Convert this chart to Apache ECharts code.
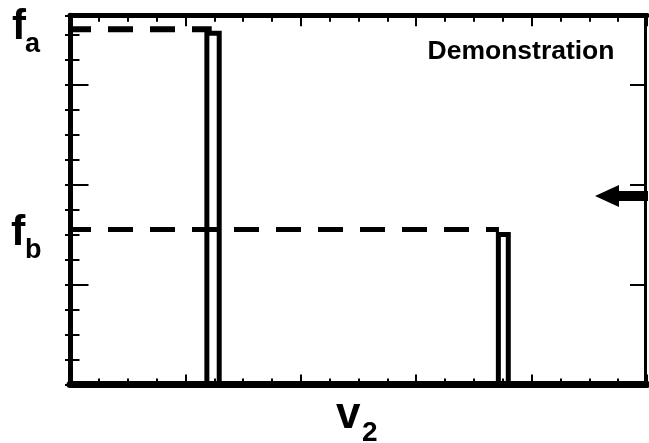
<!DOCTYPE html>
<html>
<head>
<meta charset="utf-8">
<script src="https://cdn.jsdelivr.net/npm/echarts@6/dist/echarts.min.js"></script>
<style>
  html, body { margin: 0; padding: 0; background: #fff; }
  #chart { width: 649px; height: 443px; }
</style>
</head>
<body>
<div id="chart"></div>
<script>
// Two narrow peaks on the v2 axis (outlined, unfilled)
const peakLeft   = [1.186, 3.712];
const peakRight  = [1.293, 3.798];
const peakHeight = [3.51, 1.50];

// Reference levels f_a and f_b, dashed from the left axis to their peak
const levelNames = ['a', 'b'];
const levelValue = [3.55, 1.55];
const levelEnd   = [1.228, 3.717];

// Axis extents
const xMin = 0, xMax = 5;
const yMin = 0, yMax = 3.69;

const FONT = '"Liberation Sans", Arial, Helvetica, sans-serif';
const BLACK = '#000';

const chart = echarts.init(document.getElementById('chart'), null, { renderer: 'canvas' });

function frameAxis(extra) {
  return Object.assign({
    type: 'value',
    axisLabel: { show: false },
    splitLine: { show: false },
    minorSplitLine: { show: false },
    axisPointer: { show: false }
  }, extra);
}

const xAxes = [
  frameAxis({
    position: 'bottom', min: xMin, max: xMax, interval: 1,
    axisLine: { show: true, onZero: false, lineStyle: { color: BLACK, width: 7 } },
    axisTick: { show: true, inside: true, length: 10, lineStyle: { color: BLACK, width: 2 } },
    minorTick: { show: true, splitNumber: 4, length: 6, lineStyle: { color: BLACK, width: 2 } }
  }),
  frameAxis({
    position: 'top', min: xMin, max: xMax, interval: 1,
    axisLine: { show: true, onZero: false, lineStyle: { color: BLACK, width: 5 } },
    axisTick: { show: true, inside: true, length: 11, lineStyle: { color: BLACK, width: 2 } },
    minorTick: { show: true, splitNumber: 4, length: 6.5, lineStyle: { color: BLACK, width: 2 } }
  })
];

// Left and right frames each get a major-tick axis and a fine-tick axis
const yAxes = [
  frameAxis({
    position: 'left', min: yMin, max: yMax, interval: 1,
    axisLine: { show: true, onZero: false, lineStyle: { color: BLACK, width: 5 } },
    axisTick: { show: true, inside: true, length: 18.5, lineStyle: { color: BLACK, width: 2 } }
  }),
  frameAxis({
    position: 'left', min: yMin, max: yMax, interval: 0.25,
    axisLine: { show: false },
    axisTick: { show: true, inside: true, length: 9.5, lineStyle: { color: BLACK, width: 2 } }
  }),
  frameAxis({
    position: 'right', offset: -1.5, min: yMin, max: yMax, interval: 1,
    axisLine: { show: true, onZero: false, lineStyle: { color: BLACK, width: 3 } },
    axisTick: { show: true, inside: true, length: 15.5, lineStyle: { color: BLACK, width: 2 } }
  }),
  frameAxis({
    position: 'right', offset: -1.5, min: yMin, max: yMax, interval: 0.25,
    axisLine: { show: false },
    axisTick: { show: true, inside: true, length: 6.5, lineStyle: { color: BLACK, width: 2 } }
  })
];

const series = [];

// Peak outlines: up the left edge, across the top, down the right edge
peakLeft.forEach((l, i) => {
  const r = peakRight[i], h = peakHeight[i];
  series.push({
    type: 'line',
    name: 'peak' + (i + 1),
    xAxisIndex: 0, yAxisIndex: 0,
    data: [[l, 0], [l, h], [r, h], [r, 0]],
    symbol: 'none',
    silent: true,
    z: 3,
    lineStyle: { color: BLACK, width: 5, join: 'miter', cap: 'butt' }
  });
});

// Dashed reference levels
levelValue.forEach((v, i) => {
  series.push({
    type: 'line',
    name: 'f_' + levelNames[i],
    xAxisIndex: 0, yAxisIndex: 0,
    data: [[xMin, v], [levelEnd[i], v]],
    symbol: 'none',
    silent: true,
    z: 4,
    lineStyle: { color: BLACK, width: i === 0 ? 6 : 5, type: [25, 17], dashOffset: 4, cap: 'butt' }
  });
});

function txt(text, x, y, size) {
  return {
    type: 'text', x: x, y: y, z: 100, silent: true,
    style: {
      text: text, fill: BLACK,
      font: 'bold ' + size + 'px ' + FONT,
      align: 'left', verticalAlign: 'middle'
    }
  };
}

const graphics = [
  txt('Demonstration', 427.5, 51.5, 26.5),
  txt('f', 12, 27.5, 42),
  txt('a', 25, 45, 27),
  txt('f', 11, 233.5, 43),
  txt('b', 25, 251, 27),
  txt('v', 336, 415.5, 44),
  txt('2', 362, 433, 28),
  {
    type: 'polygon', z: 100, silent: true,
    shape: { points: [[595, 196], [619, 185], [619, 191], [648, 191], [648, 201], [619, 201], [619, 207]] },
    style: { fill: BLACK }
  }
];

chart.setOption({
  animation: false,
  backgroundColor: '#fff',
  grid: { left: 70, right: 2, top: 15.3, bottom: 58.5, containLabel: false, outerBoundsMode: 'none' },
  xAxis: xAxes,
  yAxis: yAxes,
  series: series,
  graphic: graphics
});
</script>
</body>
</html>
